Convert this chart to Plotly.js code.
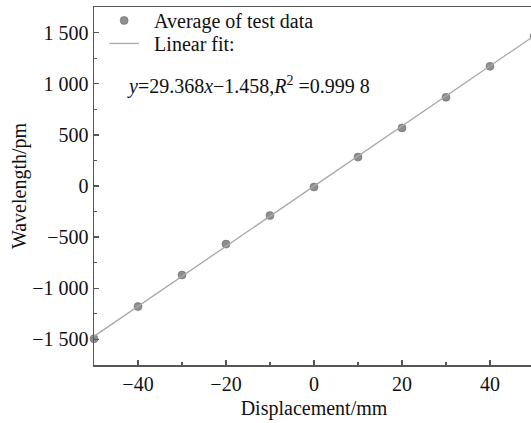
<!DOCTYPE html>
<html>
<head>
<meta charset="utf-8">
<script src="https://cdn.plot.ly/plotly-3.0.1.min.js"></script>
<style>
html,body{margin:0;padding:0;overflow:hidden;background:#fff;}
#chart{width:536px;height:423px;}
</style>
</head>
<body>
<div id="chart"></div>
<script>
// Data
const displacement = [-50, -40, -30, -20, -10, 0, 10, 20, 30, 40, 50];
const wavelengthAvg = [-1494, -1179, -870, -568, -289, -10, 283, 568, 867, 1170, 1462];
const fitX = [-50, 50];
const fitY = [-1470, 1467];
const yTickVals = [-1500, -1000, -500, 0, 500, 1000, 1500];
const yTickText = ['\u22121 500', '\u22121 000', '\u2212500', '0', '500', '1 000', '1 500'];
const xTickVals = [-40, -20, 0, 20, 40];
const xTickText = ['\u221240', '\u221220', '0', '20', '40'];

const font = 'Liberation Serif, Times New Roman, serif';
const axisColor = '#555555';
const legendFont = {family: font, size: 20, color: '#111'};

const traces = [
  {
    x: displacement, y: wavelengthAvg, mode: 'markers', type: 'scatter',
    name: '\u2002Average of test data',
    marker: {size: 8, color: '#8e8e8e', line: {color: '#6f6f6f', width: 0.6}},
    cliponaxis: false,
    legend: 'legend'
  },
  {
    x: fitX, y: fitY, mode: 'lines', type: 'scatter',
    name: '\u2002Linear fit:',
    line: {color: '#a8a8a8', width: 1.3},
    legend: 'legend2'
  }
];

const layout = {
  width: 536, height: 423,
  margin: {l: 94, r: 2, t: 6, b: 58},
  paper_bgcolor: '#fff', plot_bgcolor: '#fff',
  font: {family: font, size: 20, color: '#111'},
  showlegend: true,
  legend: {
    x: 0.023, y: 1.014, xanchor: 'left', yanchor: 'top',
    bgcolor: 'rgba(0,0,0,0)', borderwidth: 0, font: legendFont
  },
  legend2: {
    x: 0.023, y: 0.950, xanchor: 'left', yanchor: 'top',
    bgcolor: 'rgba(0,0,0,0)', borderwidth: 0, font: legendFont
  },
  xaxis: {
    range: [-50, 50],
    tickvals: xTickVals, ticktext: xTickText,
    ticks: 'inside', ticklen: 5, tickwidth: 1.3, tickcolor: axisColor,
    minor: {dtick: 10, ticks: 'inside', ticklen: 3, tickwidth: 1.2, tickcolor: axisColor},
    showline: true, linecolor: axisColor, linewidth: 1.5, mirror: true,
    showgrid: false, zeroline: false,
    tickfont: {family: font, size: 20, color: '#111'},
    title: {text: 'Displacement/mm', font: {family: font, size: 20, color: '#111'}, standoff: 7}
  },
  yaxis: {
    range: [-1750, 1750],
    tickvals: yTickVals, ticktext: yTickText,
    ticks: 'inside', ticklen: 5, tickwidth: 1.3, tickcolor: axisColor,
    minor: {dtick: 250, ticks: 'inside', ticklen: 3, tickwidth: 1.2, tickcolor: axisColor},
    showline: true, linecolor: axisColor, linewidth: 1.5, mirror: true,
    showgrid: false, zeroline: false,
    tickfont: {family: font, size: 20, color: '#111'},
    title: {text: 'Wavelength/pm', font: {family: font, size: 20, color: '#111'}, standoff: 0}
  },
  annotations: [
    {
      xref: 'paper', yref: 'paper', x: 0.07, y: 0.78, xanchor: 'left', yanchor: 'middle',
      text: '<i>y</i>=29.368<i>x</i>\u22121.458,<i>R</i><sup>2</sup> =0.999 8',
      showarrow: false, font: {family: font, size: 20, color: '#111'}
    }
  ]
};

Plotly.newPlot('chart', traces, layout, {displayModeBar: false, staticPlot: true});
</script>
</body>
</html>
